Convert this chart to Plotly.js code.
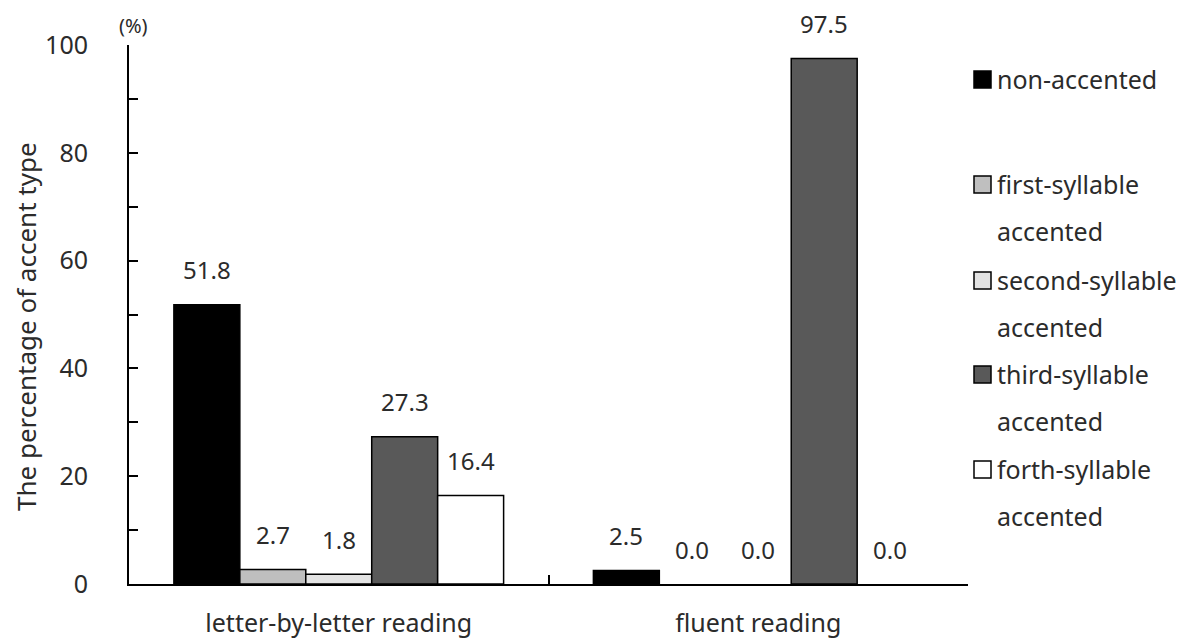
<!DOCTYPE html>
<html>
<head>
<meta charset="utf-8">
<script src="https://cdn.plot.ly/plotly-3.0.1.min.js"></script>
<style>html,body{margin:0;padding:0;background:#fff;}#chart{width:1182px;height:644px;}</style>
</head>
<body>
<div id="chart"></div>
<script>
// ---- data ----
const categories = ["letter-by-letter reading", "fluent reading"];
const seriesNames = ["non-accented", "first-syllable accented", "second-syllable accented", "third-syllable accented", "forth-syllable accented"];
const legendLines = [["non-accented"], ["first-syllable", "accented"], ["second-syllable", "accented"], ["third-syllable", "accented"], ["forth-syllable", "accented"]];
const nonAccented = [51.8, 2.5];
const firstSyllable = [2.7, 0.0];
const secondSyllable = [1.8, 0.0];
const thirdSyllable = [27.3, 97.5];
const forthSyllable = [16.4, 0.0];
const seriesValues = [nonAccented, firstSyllable, secondSyllable, thirdSyllable, forthSyllable];
const seriesColors = ["#000000", "#bfbfbf", "#e3e3e3", "#595959", "#ffffff"];
const yTicks = [0, 20, 40, 60, 80, 100];

// ---- layout constants ----
const W = 1182, H = 644;
const M = {l: 129, r: 214, t: 45, b: 60};
const plotW = W - M.l - M.r, plotH = H - M.t - M.b;
const px2x = px => (px - M.l) / plotW;
const py2y = py => (H - M.b - py) / plotH;
const FONT = '"Noto Sans", "DejaVu Sans", sans-serif';
const TXT = '#2b2b2b';
const FS = 25;
const bargap = 0.214;

const traces = seriesValues.map((vals, i) => ({
  type: 'bar',
  name: seriesNames[i],
  x: categories,
  y: vals,
  marker: {color: seriesColors[i], line: {color: '#000000', width: vals.map(v => v > 0 ? 1.5 : 0)}},
  hoverinfo: 'x+y+name'
}));

const annotations = [];
// value labels above bars
const nS = seriesValues.length;
const bw = (1 - bargap) / nS;
seriesValues.forEach((vals, i) => {
  vals.forEach((v, j) => {
    annotations.push({
      xref: 'x', yref: 'y',
      x: j - (1 - bargap) / 2 + (i + 0.5) * bw,
      y: v,
      text: v.toFixed(1),
      showarrow: false,
      yanchor: 'middle', xanchor: 'center',
      yshift: 35,
      font: {family: FONT, size: 24, color: TXT}
    });
  });
});
// y-axis title
annotations.push({
  xref: 'paper', yref: 'paper', x: px2x(26), y: py2y(327),
  text: 'The percentage of accent type', textangle: -90,
  showarrow: false, xanchor: 'center', yanchor: 'middle',
  font: {family: FONT, size: 26, color: TXT}
});
// unit
annotations.push({
  xref: 'paper', yref: 'paper', x: px2x(133), y: py2y(26),
  text: '(%)', showarrow: false, xanchor: 'center', yanchor: 'middle',
  font: {family: FONT, size: 20, color: TXT}
});

// legend (drawn manually for Excel-like line spacing)
const shapes = [];
const itemY = [79, 184, 280, 374, 469];
const lineGap = 47;
legendLines.forEach((lines, i) => {
  const cy = itemY[i];
  shapes.push({
    type: 'rect', xref: 'paper', yref: 'paper',
    x0: px2x(974), x1: px2x(991), y0: py2y(cy - 8), y1: py2y(cy + 9),
    fillcolor: seriesColors[i], line: {color: '#000000', width: 1.5}
  });
  lines.forEach((ln, k) => {
    annotations.push({
      xref: 'paper', yref: 'paper', x: px2x(995), y: py2y(cy + k * lineGap),
      text: ln, showarrow: false, xanchor: 'left', yanchor: 'middle',
      font: {family: FONT, size: FS, color: TXT}
    });
  });
});

const layout = {
  width: W, height: H,
  margin: M,
  paper_bgcolor: '#ffffff', plot_bgcolor: '#ffffff',
  barmode: 'group', bargap: bargap, bargroupgap: 0,
  showlegend: false,
  font: {family: FONT, size: FS, color: TXT},
  xaxis: {
    type: 'category',
    showline: true, linecolor: '#000000', linewidth: 2,
    ticks: 'inside', tickson: 'boundaries', ticklen: 9, tickwidth: 2, tickcolor: '#000000',
    showgrid: false, zeroline: false,
    tickfont: {family: FONT, size: FS, color: TXT},
    ticklabelstandoff: 16,
    fixedrange: true
  },
  yaxis: {
    range: [0, 100], autorange: false,
    tickvals: yTicks, ticktext: yTicks.map(String),
    showline: true, linecolor: '#000000', linewidth: 2,
    ticks: 'inside', ticklen: 9, tickwidth: 2, tickcolor: '#000000',
    minor: {ticks: 'inside', ticklen: 9, tickwidth: 2, tickcolor: '#000000', dtick: 10, tick0: 0, showgrid: false},
    showgrid: false, zeroline: false,
    tickfont: {family: FONT, size: FS, color: TXT},
    ticklabelstandoff: 34,
    fixedrange: true
  },
  annotations: annotations,
  shapes: shapes
};

Plotly.newPlot('chart', traces, layout, {displayModeBar: false, staticPlot: true});
</script>
</body>
</html>
